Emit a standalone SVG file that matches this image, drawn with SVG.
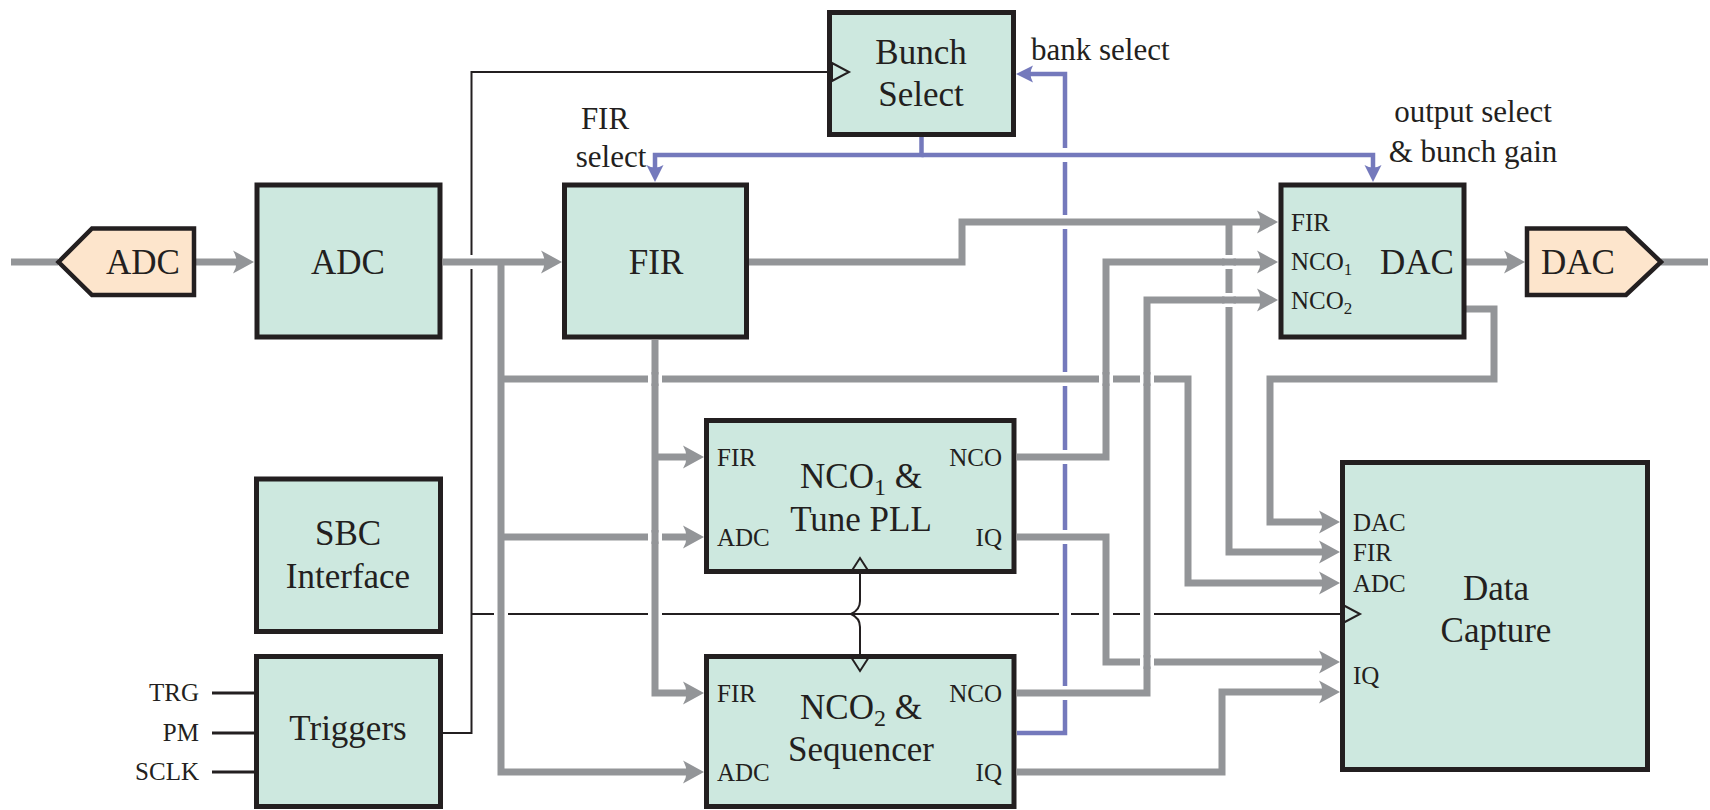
<svg xmlns="http://www.w3.org/2000/svg" width="1710" height="810" viewBox="0 0 1710 810">
<defs>
<style>
.blk{fill:#cde8df;stroke:#231f20;stroke-width:5}
.pent{fill:#fde5cc;stroke:#231f20;stroke-width:4.5}
.g{fill:none;stroke:#939598;stroke-width:7}
.b{fill:none;stroke:#7479bc;stroke-width:4.5}
.k{fill:none;stroke:#231f20;stroke-width:2}
.k3{fill:none;stroke:#231f20;stroke-width:3}
.clk{fill:none;stroke:#231f20;stroke-width:2}
.gap{fill:#ffffff}
text{font-family:"Liberation Serif","Times New Roman",serif;fill:#231f20}
.big{font-size:35px;text-anchor:middle}
.lbl{font-size:31px}
.mid{text-anchor:middle}
.end{text-anchor:end}
.port{font-size:25px}
.sub{font-size:17px}
.tsub{font-size:24px}
</style>
<marker id="ag" markerUnits="userSpaceOnUse" viewBox="-8 -12 23 24" markerWidth="23" markerHeight="24" refX="0" refY="0" orient="auto">
<path d="M14,0 L-7,-11.5 Q0,0 -7,11.5 Z" fill="#939598"/>
</marker>
<marker id="ab" markerUnits="userSpaceOnUse" viewBox="-6 -9 19 18" markerWidth="19" markerHeight="18" refX="0" refY="0" orient="auto">
<path d="M12,0 L-5,-8.5 Q0,0 -5,8.5 Z" fill="#7479bc"/>
</marker>
</defs>
<rect width="1710" height="810" fill="#ffffff"/>

<g id="connectors">
<!-- thin control lines -->
<path class="k" d="M827,72 H471.5 V733 H443"/>
<path class="k" d="M471.5,614 H1340"/>
<path class="k" d="M860,572 V601 Q860,610 851,614 Q860,618 860,627 V656"/>
<path class="k3" d="M212,693 H254 M212,733 H254 M212,772 H254"/>
<!-- gaps in thin lines -->
<rect class="gap" x="469" y="255" width="5" height="14"/>
<rect class="gap" x="494" y="611.5" width="14" height="5"/>
<rect class="gap" x="648" y="611.5" width="14" height="5"/>
<rect class="gap" x="1059" y="611.5" width="12" height="5"/>
<rect class="gap" x="1099" y="611.5" width="14" height="5"/>
<rect class="gap" x="1140" y="611.5" width="14" height="5"/>
<!-- blue control lines -->
<path class="b" d="M1017,733 H1065 V74 H1028" marker-end="url(#ab)"/>
<rect class="gap" x="1061.5" y="148" width="7" height="14"/>
<path class="b" d="M921.5,137 V155 H655 V170" marker-end="url(#ab)"/>
<path class="b" d="M921.5,155 H1373 V170" marker-end="url(#ab)"/>
<rect class="gap" x="1061.5" y="215" width="7" height="14"/>
<rect class="gap" x="1061.5" y="372" width="7" height="14"/>
<rect class="gap" x="1061.5" y="450" width="7" height="14"/>
<rect class="gap" x="1061.5" y="530" width="7" height="14"/>
<rect class="gap" x="1061.5" y="686" width="7" height="14"/>
<!-- gray data paths -->
<path class="g" d="M11,262 H58"/>
<path class="g" d="M194,262 H240" marker-end="url(#ag)"/>
<path class="g" d="M443,262 H548" marker-end="url(#ag)"/>
<path class="g" d="M501,262 V772 H690" marker-end="url(#ag)"/>
<path class="g" d="M501,537 H690" marker-end="url(#ag)"/>
<path class="g" d="M501,379 H1188 V583 H1326" marker-end="url(#ag)"/>
<path class="g" d="M655,340 V693 H690" marker-end="url(#ag)"/>
<path class="g" d="M655,457 H690" marker-end="url(#ag)"/>
<path class="g" d="M749,262 H962 V222 H1264" marker-end="url(#ag)"/>
<path class="g" d="M1229,222 V552 H1326" marker-end="url(#ag)"/>
<path class="g" d="M1017,457 H1106 V262 H1264" marker-end="url(#ag)"/>
<path class="g" d="M1017,693 H1147 V300 H1264" marker-end="url(#ag)"/>
<path class="g" d="M1017,537 H1106 V662 H1326" marker-end="url(#ag)"/>
<path class="g" d="M1017,772 H1222 V692 H1326" marker-end="url(#ag)"/>
<path class="g" d="M1466,309 H1494 V379 H1270 V522 H1326" marker-end="url(#ag)"/>
<path class="g" d="M1466,262 H1511" marker-end="url(#ag)"/>
<path class="g" d="M1661,262 H1708"/>
<!-- gray over gray crossings -->
<rect class="gap" x="648" y="374.5" width="14" height="9"/>
<path class="g" d="M655,372 V386"/>
<rect class="gap" x="648" y="532.5" width="14" height="9"/>
<path class="g" d="M655,530 V544"/>
<rect class="gap" x="1099" y="374.5" width="14" height="9"/>
<path class="g" d="M1106,372 V386"/>
<rect class="gap" x="1140" y="374.5" width="14" height="9"/>
<path class="g" d="M1147,372 V386"/>
<rect class="gap" x="1140" y="657.5" width="14" height="9"/>
<path class="g" d="M1147,655 V669"/>
<rect class="gap" x="1224.5" y="255" width="9" height="14"/>
<path class="g" d="M1222,262 H1236"/>
<rect class="gap" x="1224.5" y="293" width="9" height="14"/>
<path class="g" d="M1222,300 H1236"/>
</g>

<g id="n-adc-in">
<polygon class="pent" points="58.5,262 92,228.5 194,228.5 194,295 92,295"/>
<text class="big" x="143" y="274">ADC</text>
</g>
<g id="n-adc">
<rect class="blk" x="257" y="185" width="183" height="152"/>
<text class="big" x="348" y="274">ADC</text>
</g>
<g id="n-fir">
<rect class="blk" x="564.5" y="185" width="182" height="152"/>
<text class="big" x="656" y="274">FIR</text>
</g>
<g id="n-bunch">
<rect class="blk" x="829.5" y="12.5" width="184" height="122"/>
<polygon class="clk" points="832,63 849,72 832,81"/>
<text class="big" x="921" y="64">Bunch</text>
<text class="big" x="921" y="106">Select</text>
</g>
<g id="n-dac">
<rect class="blk" x="1281" y="185" width="183" height="152"/>
<text class="port" x="1291" y="231">FIR</text>
<text class="port" x="1291" y="270">NCO<tspan class="sub" dy="5">1</tspan></text>
<text class="port" x="1291" y="309">NCO<tspan class="sub" dy="5">2</tspan></text>
<text class="big" x="1417" y="274">DAC</text>
</g>
<g id="n-dac-out">
<polygon class="pent" points="1527,228.5 1626,228.5 1661,262 1626,295 1527,295"/>
<text class="big" x="1578" y="274">DAC</text>
</g>
<g id="n-nco1">
<rect class="blk" x="706.5" y="420.5" width="307.5" height="151"/>
<polygon class="clk" points="851,572 860,558 869,572"/>
<text class="port" x="717" y="466">FIR</text>
<text class="port" x="717" y="546">ADC</text>
<text class="port end" x="1002" y="466">NCO</text>
<text class="port end" x="1002" y="546">IQ</text>
<text class="big" x="861" y="488">NCO<tspan class="tsub" dy="7">1</tspan><tspan dy="-7"> &amp;</tspan></text>
<text class="big" x="861" y="531">Tune PLL</text>
</g>
<g id="n-nco2">
<rect class="blk" x="706.5" y="656.5" width="307.5" height="150"/>
<polygon class="clk" points="851,657 860,671 869,657"/>
<text class="port" x="717" y="702">FIR</text>
<text class="port" x="717" y="781">ADC</text>
<text class="port end" x="1002" y="702">NCO</text>
<text class="port end" x="1002" y="781">IQ</text>
<text class="big" x="861" y="719">NCO<tspan class="tsub" dy="7">2</tspan><tspan dy="-7"> &amp;</tspan></text>
<text class="big" x="861" y="761">Sequencer</text>
</g>
<g id="n-sbc">
<rect class="blk" x="256.5" y="479" width="184" height="152.5"/>
<text class="big" x="348" y="545">SBC</text>
<text class="big" x="348" y="588">Interface</text>
</g>
<g id="n-triggers">
<rect class="blk" x="256.5" y="656.5" width="184" height="150"/>
<text class="big" x="348" y="740">Triggers</text>
</g>
<g id="n-dc">
<rect class="blk" x="1342.5" y="462.5" width="305" height="307"/>
<polygon class="clk" points="1343,605 1360,614 1343,623"/>
<text class="port" x="1353" y="531">DAC</text>
<text class="port" x="1353" y="561">FIR</text>
<text class="port" x="1353" y="592">ADC</text>
<text class="port" x="1353" y="684">IQ</text>
<text class="big" x="1496" y="600">Data</text>
<text class="big" x="1496" y="642">Capture</text>
</g>

<g id="labels">
<text class="lbl mid" x="605" y="129">FIR</text>
<text class="lbl mid" x="611" y="167">select</text>
<text class="lbl" x="1031" y="60">bank select</text>
<text class="lbl mid" x="1473" y="122">output select</text>
<text class="lbl mid" x="1473" y="162">&amp; bunch gain</text>
<text class="port end" x="199" y="701">TRG</text>
<text class="port end" x="199" y="741">PM</text>
<text class="port end" x="199" y="780">SCLK</text>
</g>
</svg>
